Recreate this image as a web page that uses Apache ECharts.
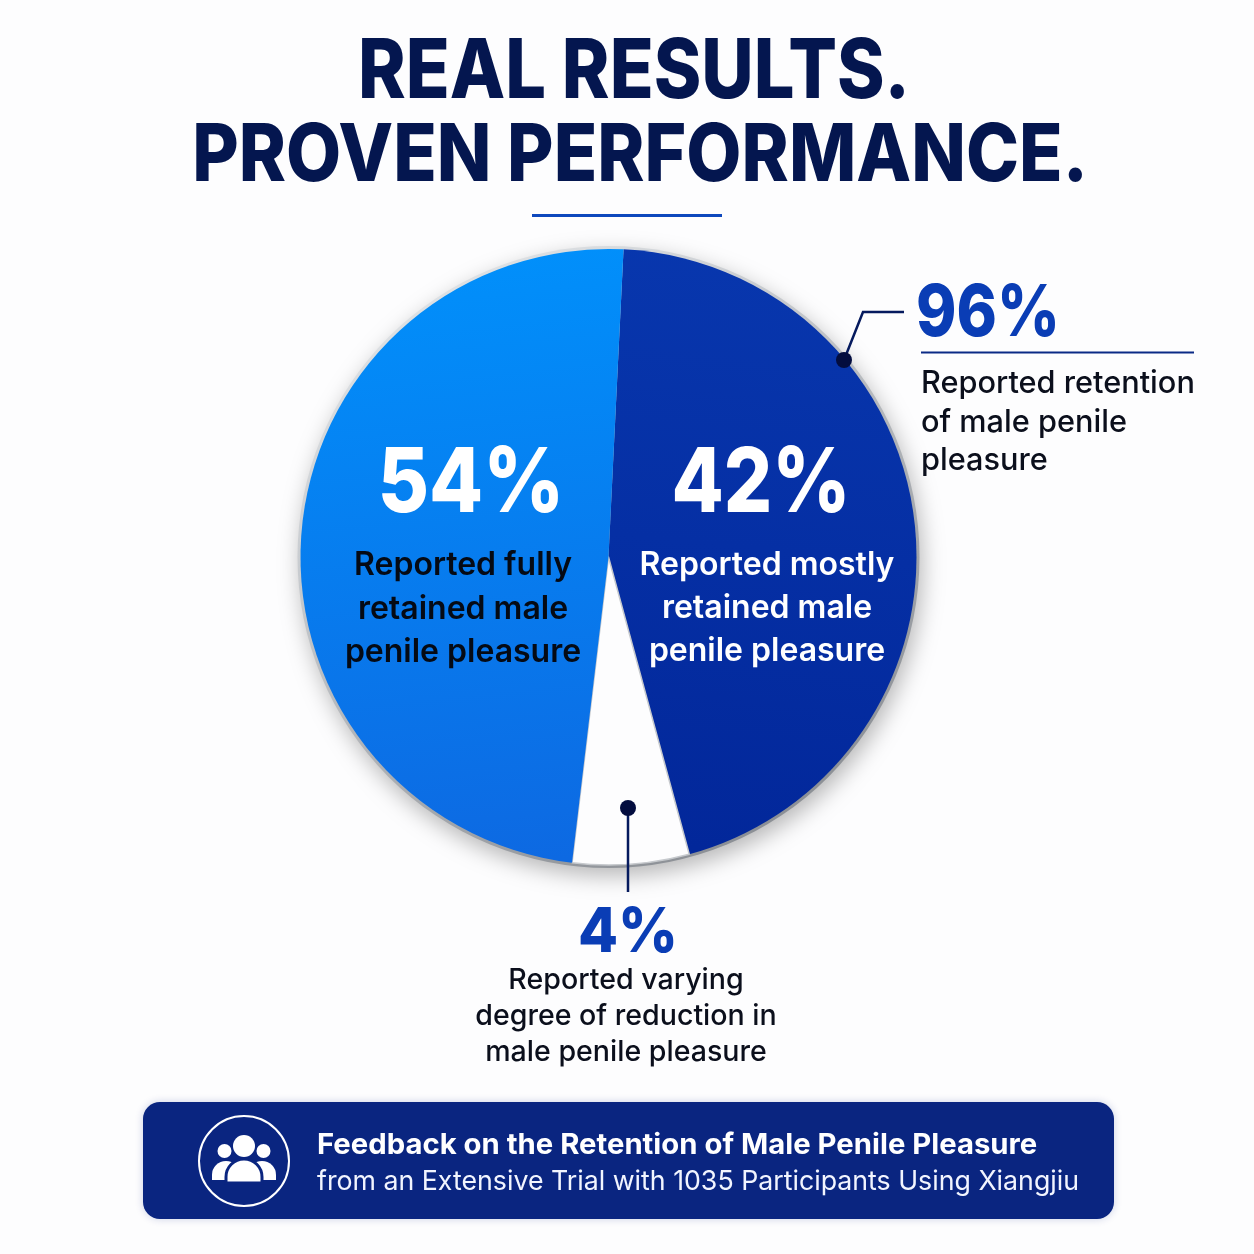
<!DOCTYPE html>
<html><head><meta charset="utf-8">
<style>html,body{margin:0;padding:0;background:#fdfdfe}#c{width:1254px;height:1254px}</style>
<script src="https://cdn.jsdelivr.net/npm/echarts@6/dist/echarts.min.js"></script>
</head><body><div id="c"></div>
<script>
// Printed percentages, as labelled in the picture
const printedLabels = ['42%', '4%', '54%'];
const sliceNames = ['Reported mostly retained male penile pleasure', 'Reported varying degree of reduction in male penile pleasure', 'Reported fully retained male penile pleasure'];
const drawnArcDegrees = [162, 22, 176];
const titleLines = ['REAL RESULTS.', 'PROVEN PERFORMANCE.'];
const calloutTotal = '96%';
const calloutLines = ['Reported retention', 'of male penile', 'pleasure'];
const leftLines = ['Reported fully', 'retained male', 'penile pleasure'];
const rightLines = ['Reported mostly', 'retained male', 'penile pleasure'];
const bottomLines = ['Reported varying', 'degree of reduction in', 'male penile pleasure'];
const bannerLines = ['Feedback on the Retention of Male Penile Pleasure', 'from an Extensive Trial with 1035 Participants Using Xiangjiu'];

const FF = 'Inter, "Noto Sans", sans-serif';
const NAVY = '#04164f', BLUE = '#0a3db5', INK = '#0b0f1c', BANNER = '#0a2580';
const grad = (x, y, x2, y2, a, b) => new echarts.graphic.LinearGradient(x, y, x2, y2, [{offset:0,color:a},{offset:1,color:b}]);
const txt = (s, x, y, size, weight, fill, extra, sx) => ({type:'text', silent:true, z:20, x, y, scaleX:sx||1,
  style:Object.assign({text:s, x:0, y:0, fill, font:`${weight} ${size}px ${FF}`, textAlign:'center', textVerticalAlign:'middle'}, extra||{})});
const line = (pts, stroke, w) => ({type:'polyline', silent:true, z:15, shape:{points:pts}, style:{stroke, lineWidth:w, fill:null}});
const dot = (cx, cy, r) => ({type:'circle', silent:true, z:16, shape:{cx, cy, r}, style:{fill:'#030d3f'}});
const stack = (lines, x, y0, dy, size, weight, fill, extra, sx) => lines.map((s,i)=>txt(s, x, y0+i*dy, size, weight, fill, extra, sx));
const bodyRect = (x, y, w, h, r, z, stroke) => ({type:'rect', silent:true, z, shape:{x,y,width:w,height:h,r:[r,r,0,0]}, style:{fill:'#fff', stroke:stroke||null, lineWidth:stroke?3:0}});
const head = (cx, cy, r) => ({type:'circle', silent:true, z:16, shape:{cx,cy,r}, style:{fill:'#fff'}});

const CX = 608.5, CY = 557, R = 308;
const chart = echarts.init(document.getElementById('c'), null, {renderer:'canvas'});
chart.setOption({
  animation:false,
  backgroundColor:'#fdfdfe',
  series:[
    {type:'pie', silent:true, center:[CX,CY], radius:[0,R+3], z:1, label:{show:false}, labelLine:{show:false},
     data:[{value:1, itemStyle:{color:grad(0.2,0,0.8,1,'#e4e7ea','#85898f'), shadowBlur:22, shadowColor:'rgba(0,0,0,0.28)', shadowOffsetX:3, shadowOffsetY:8}}]},
    {type:'pie', silent:true, center:[CX,CY], radius:[0,R], startAngle:87.2, clockwise:true, z:2, label:{show:false}, labelLine:{show:false},
     data:sliceNames.map((name,i)=>({name, value:drawnArcDegrees[i], itemStyle:{
       color:[grad(0.7,0,0.5,1,'#0837ae','#02279a'), '#fdfdfe', grad(0.5,0,0.7,1,'#0190fb','#0d69e2')][i],
       borderColor: i===1 ? '#c6c9cd' : 'transparent', borderWidth: i===1 ? 1.5 : 0}}))}
  ],
  graphic:[
    txt(titleLines[0], 634, 73, 82, 800, NAVY, null, 0.88),
    txt(titleLines[1], 640, 157, 80, 800, NAVY, null, 0.893),
    {type:'rect', silent:true, z:15, shape:{x:532,y:214,width:190,height:3}, style:{fill:'#0e48bd'}},

    txt(printedLabels[2], 471, 485, 90, 800, '#fff', null, 0.875),
    ...stack(leftLines, 463, 565.5, 43.5, 32, 600, '#050a14'),
    txt(printedLabels[0], 761, 485, 90, 800, '#fff', null, 0.845),
    ...stack(rightLines, 767, 565, 43, 32, 600, '#fff'),

    line([[844,360],[863,312],[904,312]], '#051a5e', 2.5),
    dot(844,360,8),
    txt(calloutTotal, 988, 314, 72, 800, BLUE, null, 0.85),
    line([[921,352.5],[1194,352.5]], '#0b2a86', 2),
    ...stack(calloutLines, 921, 384, 38.5, 31, 500, INK, {textAlign:'left'}, 0.99),

    line([[628,808],[628,892]], '#051a5e', 2.5),
    dot(628,808,8),
    txt(printedLabels[1], 628, 933, 62, 800, BLUE, null, 0.94),
    ...stack(bottomLines, 626, 980, 36, 29, 500, INK, null, 0.985),

    {type:'rect', silent:true, z:10, shape:{x:143,y:1102,width:971,height:117,r:17},
     style:{fill:BANNER, shadowBlur:8, shadowColor:'rgba(10,37,128,0.2)'}},
    {type:'circle', silent:true, z:15, shape:{cx:244,cy:1161,r:45}, style:{fill:null, stroke:'#fff', lineWidth:2}},
    head(224.5,1151,7), head(263.5,1151,7), head(244,1146,11),
    bodyRect(212,1161,28,19,14,16), bodyRect(248,1161,28,19,14,16),
    bodyRect(226,1159,36,24,18,17,BANNER),
    txt(bannerLines[0], 317, 1145, 29, 700, '#fff', {textAlign:'left'}, 1.01),
    txt(bannerLines[1], 317, 1182, 27, 400, '#f2f5ff', {textAlign:'left'}, 0.99)
  ]
});
</script></body></html>
